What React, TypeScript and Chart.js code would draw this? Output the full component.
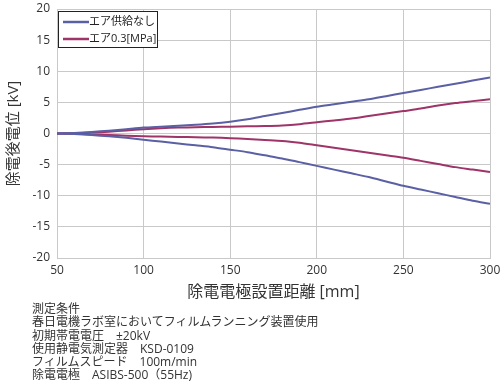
import React, { useEffect, useRef } from "react";
import { Chart, registerables } from "chart.js";

Chart.register(...registerables);

const distances = [50, 60, 70, 80, 90, 100, 110, 120, 130, 140, 150, 160, 170, 180, 190, 200, 210, 220, 230, 240, 250, 260, 270, 280, 290, 300];
const noAirPlus = [0, 0.1, 0.25, 0.45, 0.7, 0.95, 1.1, 1.25, 1.4, 1.6, 1.9, 2.3, 2.8, 3.3, 3.8, 4.3, 4.7, 5.1, 5.5, 6.0, 6.5, 7.0, 7.5, 8.0, 8.5, 9.0];
const noAirMinus = [0, -0.1, -0.25, -0.45, -0.7, -1.0, -1.3, -1.6, -1.9, -2.2, -2.6, -3.0, -3.5, -4.0, -4.6, -5.2, -5.8, -6.4, -7.0, -7.7, -8.4, -9.0, -9.6, -10.2, -10.8, -11.3];
const airPlus = [0, 0.05, 0.15, 0.3, 0.5, 0.7, 0.85, 0.95, 1.0, 1.05, 1.1, 1.15, 1.2, 1.3, 1.5, 1.8, 2.1, 2.4, 2.8, 3.2, 3.6, 4.0, 4.5, 4.9, 5.2, 5.5];
const airMinus = [0, -0.05, -0.15, -0.25, -0.35, -0.45, -0.5, -0.55, -0.6, -0.65, -0.75, -0.9, -1.05, -1.2, -1.5, -1.9, -2.3, -2.7, -3.1, -3.5, -3.9, -4.4, -4.9, -5.4, -5.8, -6.2];

const seriesLabels = ["エア供給なし", "エア0.3[MPa]"];
const xTicks = [50, 100, 150, 200, 250, 300];
const yTicks = [-20, -15, -10, -5, 0, 5, 10, 15, 20];
const xTitle = "除電電極設置距離 [mm]";
const yTitle = "除電後電位 [kV]";
const notes = [
  "測定条件",
  "春日電機ラボ室においてフィルムランニング装置使用",
  "初期帯電電圧　±20kV",
  "使用静電気測定器　KSD-0109",
  "フィルムスピード　100m/min",
  "除電電極　ASIBS-500（55Hz)",
];

const BLUE = "#5b5fa3";
const PURPLE = "#9e3467";
const FONT = "'Open Sans', 'Noto Sans CJK JP', sans-serif";
const GRID = "#c9c9c9";

const legendBox = {
  id: "legendBox",
  afterDraw(chart: any) {
    const ctx = chart.ctx;
    const area = chart.chartArea;
    const x0 = area.left + 1;
    const y0 = area.top + 2;
    const w = 99;
    const h = 36;
    ctx.save();
    ctx.fillStyle = "#ffffff";
    ctx.fillRect(x0, y0, w, h);
    ctx.strokeStyle = "#222222";
    ctx.lineWidth = 1;
    ctx.strokeRect(x0 + 0.5, y0 + 0.5, w, h);
    const items = [
      { label: chart.data.datasets[0].label, color: chart.data.datasets[0].borderColor },
      { label: chart.data.datasets[2].label, color: chart.data.datasets[2].borderColor },
    ];
    ctx.font = "11px " + FONT;
    ctx.textBaseline = "middle";
    items.forEach((it, i) => {
      const yy = y0 + 11 + i * 17;
      ctx.strokeStyle = it.color;
      ctx.lineWidth = 2.5;
      ctx.beginPath();
      ctx.moveTo(x0 + 5, yy);
      ctx.lineTo(x0 + 31, yy);
      ctx.stroke();
      ctx.fillStyle = "#222222";
      ctx.fillText(it.label, x0 + 31, yy);
    });
    ctx.restore();
  },
};

export default function App() {
  const ref = useRef<HTMLCanvasElement>(null);

  useEffect(() => {
    if (!ref.current) return;
    const mk = (arr: number[]) => distances.map((d, i) => ({ x: d, y: arr[i] }));
    const common = { borderWidth: 2, pointRadius: 0, tension: 0.25, fill: false };
    const chart = new Chart(ref.current, {
      type: "line",
      data: {
        datasets: [
          { label: seriesLabels[0], data: mk(noAirPlus), borderColor: BLUE, ...common },
          { label: seriesLabels[0], data: mk(noAirMinus), borderColor: BLUE, ...common },
          { label: seriesLabels[1], data: mk(airPlus), borderColor: PURPLE, ...common },
          { label: seriesLabels[1], data: mk(airMinus), borderColor: PURPLE, ...common },
        ],
      },
      options: {
        animation: false,
        responsive: false,
        maintainAspectRatio: false,
        layout: { padding: { left: 0, right: 10, top: 9, bottom: 0 } },
        plugins: {
          legend: { display: false },
          tooltip: { enabled: false },
        },
        scales: {
          x: {
            type: "linear",
            min: 50,
            max: 300,
            afterBuildTicks: (s: any) => {
              s.ticks = xTicks.map((v) => ({ value: v }));
            },
            afterFit: (s: any) => {
              s.height = 47;
              s.paddingLeft = 0;
              s.paddingRight = 0;
            },
            grid: { color: GRID, drawTicks: false, lineWidth: 1 },
            border: { color: GRID },
            ticks: { padding: 5, color: "#333333", font: { family: FONT, size: 12 }, maxRotation: 0 },
            title: {
              display: true,
              text: xTitle,
              color: "#333333",
              font: { family: FONT, size: 16 },
              padding: { top: 0, bottom: 3 },
            },
          },
          y: {
            min: -20,
            max: 20,
            afterBuildTicks: (s: any) => {
              s.ticks = yTicks.map((v) => ({ value: v }));
            },
            afterFit: (s: any) => {
              s.width = 57;
              s.paddingTop = 0;
              s.paddingBottom = 0;
            },
            grid: { color: GRID, drawTicks: false, lineWidth: 1 },
            border: { color: GRID },
            ticks: { padding: 7, color: "#333333", font: { family: FONT, size: 12 } },
            title: {
              display: true,
              text: yTitle,
              color: "#333333",
              font: { family: FONT, size: 15 },
              padding: { top: 5, bottom: 0 },
            },
          },
        },
      },
      plugins: [legendBox],
    });
    return () => chart.destroy();
  }, []);

  return (
    <div style={{ position: "fixed", left: 0, top: 0, width: 500, height: 388, background: "#fff" }}>
      <canvas ref={ref} width={500} height={305} style={{ position: "absolute", left: 0, top: 0, width: 500, height: 305 }} />
      <div
        style={{
          position: "absolute",
          left: 32,
          top: 302,
          fontFamily: FONT,
          fontSize: 12,
          lineHeight: "13.3px",
          color: "#333333",
          whiteSpace: "pre",
        }}
      >
        {notes.map((n, i) => (
          <div key={i}>{n}</div>
        ))}
      </div>
    </div>
  );
}
